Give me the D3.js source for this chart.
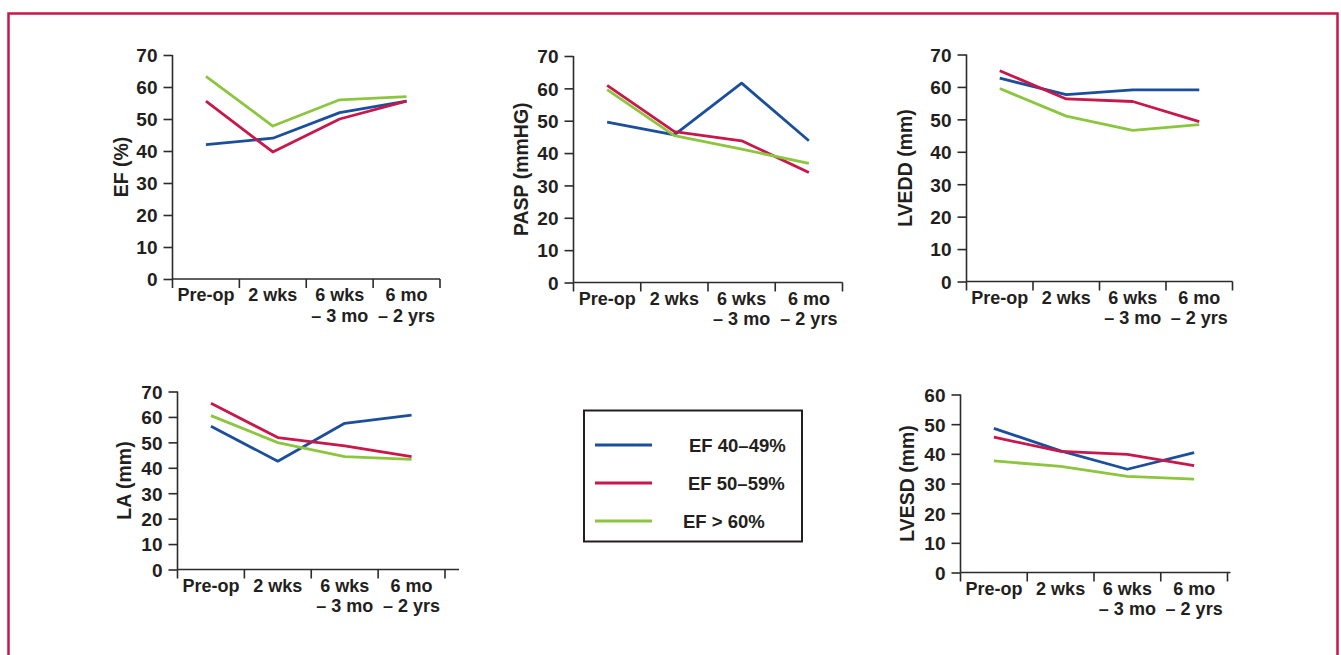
<!DOCTYPE html>
<html>
<head>
<meta charset="utf-8">
<script src="https://cdn.jsdelivr.net/npm/d3@7"></script>
<style>
  html, body { margin: 0; padding: 0; background: #ffffff; }
  svg { display: block; }
  text { font-family: "Liberation Sans", Arial, Helvetica, sans-serif; font-weight: bold; fill: #231f20; }
</style>
</head>
<body>
<svg id="chart" width="1341" height="655"></svg>
<script>
// Time points after surgery (multi-line tick labels)
const categories = ["Pre-op", "2 wks", "6 wks – 3 mo", "6 mo – 2 yrs"];
const categoryLines = [["Pre-op"], ["2 wks"], ["6 wks", "– 3 mo"], ["6 mo", "– 2 yrs"]];

// Patient groups by pre-operative ejection fraction
const groups = ["EF 40–49%", "EF 50–59%", "EF > 60%"];
const groupColors = ["#1b4f9b", "#c8174a", "#8cc63f"];

// EF (%)
const efLow  = [42, 44, 52, 55.6];
const efMid  = [55.6, 39.7, 50, 55.6];
const efHigh = [63.3, 47.8, 56, 57];

// PASP (mmHG)
const paspLow  = [49.6, 45.6, 61.6, 43.8];
const paspMid  = [60.9, 46.6, 43.8, 34];
const paspHigh = [59.6, 45.4, 41.2, 36.8];

// LVEDD (mm)
const lveddLow  = [62.7, 57.6, 59.1, 59.1];
const lveddMid  = [65, 56.3, 55.5, 49.3];
const lveddHigh = [59.5, 51, 46.6, 48.4];

// LA (mm)
const laLow  = [56.3, 42.6, 57.5, 60.7];
const laMid  = [65.4, 51.9, 48.6, 44.4];
const laHigh = [60.5, 49.9, 44.4, 43.3];

// LVESD (mm)
const lvesdLow  = [48.6, 41, 34.8, 40.4];
const lvesdMid  = [45.6, 40.8, 39.8, 36];
const lvesdHigh = [37.6, 35.8, 32.4, 31.5];

// Y-axis tick values
const ticks70 = [0, 10, 20, 30, 40, 50, 60, 70];
const ticks60 = [0, 10, 20, 30, 40, 50, 60];

const svg = d3.select("#chart");

// Outer frame
svg.append("rect")
  .attr("x", 8.5).attr("y", 13.5)
  .attr("width", 1329).attr("height", 700)
  .attr("fill", "none")
  .attr("stroke", "#c8174a")
  .attr("stroke-width", 2.5);

// Panel placement on the page
const panels = [
  { title: "EF (%)",      series: [efLow, efMid, efHigh],          ticks: ticks70, yMax: 70,
    x0: 172.5, x1: 440, yTop: 55, yBot: 279, titleX: 121, ext: 0 },
  { title: "PASP (mmHG)", series: [paspLow, paspMid, paspHigh],    ticks: ticks70, yMax: 70,
    x0: 573.5, x1: 842.5, yTop: 56, yBot: 282.5, titleX: 521, ext: 0 },
  { title: "LVEDD (mm)",  series: [lveddLow, lveddMid, lveddHigh], ticks: ticks70, yMax: 70,
    x0: 966.5, x1: 1232.5, yTop: 54.5, yBot: 281.5, titleX: 905, ext: 0 },
  { title: "LA (mm)",     series: [laLow, laMid, laHigh],          ticks: ticks70, yMax: 70,
    x0: 177.5, x1: 445, yTop: 391.5, yBot: 569.5, titleX: 124, ext: 14 },
  { title: "LVESD (mm)",  series: [lvesdLow, lvesdMid, lvesdHigh], ticks: ticks60, yMax: 60,
    x0: 960.5, x1: 1227.5, yTop: 394.5, yBot: 572.5, titleX: 907, ext: 3 }
];

const axisColor = "#2b2b2b";

panels.forEach(p => {
  const g = svg.append("g");
  const x = d3.scaleBand().domain(categories).range([p.x0, p.x1]).paddingInner(0).paddingOuter(0);
  const y = d3.scaleLinear().domain([0, p.yMax]).range([p.yBot, p.yTop]);

  // Y axis
  const yAxis = d3.axisLeft(y).tickValues(p.ticks).tickSize(9).tickPadding(6).tickFormat(d3.format("d"));
  const yg = g.append("g").attr("transform", `translate(${p.x0},0)`).call(yAxis);
  yg.select(".domain").attr("d", `M0,${p.yTop}V${p.yBot}`).attr("stroke", axisColor).attr("stroke-width", 1.6);
  yg.selectAll(".tick line").attr("stroke", axisColor).attr("stroke-width", 1.6);
  yg.selectAll(".tick text").style("font-size", "19px").attr("dy", "0.36em").attr("fill", "#231f20");

  // X axis: boundary ticks between time points
  const xg = g.append("g").attr("transform", `translate(0,${p.yBot})`);
  xg.append("line")
    .attr("x1", p.x0).attr("x2", p.x1 + p.ext)
    .attr("stroke", axisColor).attr("stroke-width", 1.6);
  const bounds = categories.map(c => x(c)).concat([p.x1]);
  xg.selectAll("line.bt").data(bounds).join("line")
    .attr("class", "bt")
    .attr("x1", d => d).attr("x2", d => d)
    .attr("y1", 0).attr("y2", 9)
    .attr("stroke", axisColor).attr("stroke-width", 1.6);
  const labels = xg.selectAll("text.cat").data(categories).join("text")
    .attr("class", "cat")
    .attr("text-anchor", "middle")
    .attr("transform", c => `translate(${x(c) + x.bandwidth() / 2},0)`)
    .style("font-size", "18px");
  labels.each(function(c, i) {
    d3.select(this).selectAll("tspan").data(categoryLines[i]).join("tspan")
      .attr("x", 0)
      .attr("y", (d, j) => 22 + j * 20.5)
      .text(d => d);
  });

  // Y title
  g.append("text")
    .attr("transform", `translate(${p.titleX},${(p.yTop + p.yBot) / 2}) rotate(-90)`)
    .attr("text-anchor", "middle")
    .attr("dy", "0.36em")
    .style("font-size", "19.5px")
    .text(p.title);

  // Series lines
  const line = d3.line()
    .x((d, i) => x(categories[i]) + x.bandwidth() / 2)
    .y(d => y(d));
  g.selectAll("path.series").data(p.series).join("path")
    .attr("class", "series")
    .attr("d", d => line(d))
    .attr("fill", "none")
    .attr("stroke", (d, i) => groupColors[i])
    .attr("stroke-width", 2.8)
    .attr("stroke-linejoin", "round");
});

// Legend
const legend = svg.append("g");
legend.append("rect")
  .attr("x", 584).attr("y", 410.5)
  .attr("width", 218).attr("height", 131)
  .attr("fill", "none")
  .attr("stroke", "#231f20")
  .attr("stroke-width", 2);
const legendY = d3.scalePoint().domain(groups).range([445, 521]);
const legendTextX = [689, 688, 683];
legend.selectAll("line.key").data(groups).join("line")
  .attr("class", "key")
  .attr("x1", 595).attr("x2", 652)
  .attr("y1", d => legendY(d)).attr("y2", d => legendY(d))
  .attr("stroke", (d, i) => groupColors[i])
  .attr("stroke-width", 2.8);
legend.selectAll("text.key").data(groups).join("text")
  .attr("class", "key")
  .attr("x", (d, i) => legendTextX[i])
  .attr("y", d => legendY(d))
  .attr("dy", "0.36em")
  .style("font-size", "18.5px")
  .text(d => d);
</script>
</body>
</html>
